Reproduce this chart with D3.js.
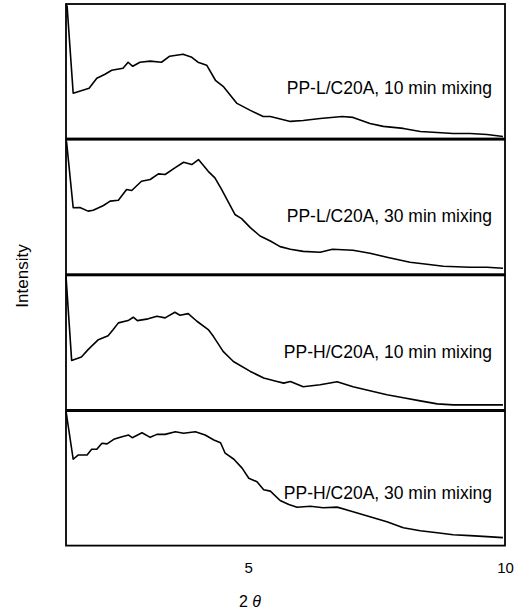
<!DOCTYPE html>
<html>
<head>
<meta charset="utf-8">
<script src="https://cdn.jsdelivr.net/npm/d3@7"></script>
<style>
  body { margin: 0; background: #fff; }
  text { font-family: "Liberation Sans", Arial, sans-serif; fill: #000; }
</style>
</head>
<body>
<svg width="518" height="613"></svg>
<script>
// sample names, top to bottom
var labels = [
    "PP-L/C20A, 10 min mixing",
    "PP-L/C20A, 30 min mixing",
    "PP-H/C20A, 10 min mixing",
    "PP-H/C20A, 30 min mixing"
];

// 2 theta positions
var theta1 = [1.47, 1.59, 1.90, 2.05, 2.21, 2.34, 2.56, 2.66, 2.75, 2.89, 3.09, 3.31, 3.47, 3.73, 3.90, 4.02, 4.19, 4.36, 4.51, 4.78, 5.04, 5.29, 5.43, 5.82, 6.07, 6.40, 6.83, 7.04, 7.37, 7.63, 8.02, 8.35, 8.68, 8.99, 9.32, 9.65, 9.96];
var int1 = [99, 33.6, 37.3, 44.8, 47.8, 50.7, 52.2, 56.7, 53.7, 56.7, 57.5, 56.7, 61.2, 62.7, 60.4, 56.7, 54.5, 43.3, 38.8, 26.1, 20.9, 16.4, 16.4, 12.7, 13.4, 14.9, 16.4, 15.7, 11.2, 9.0, 7.5, 5.2, 4.5, 3.7, 3.7, 3.0, 1.5];

var theta2 = [1.46, 1.59, 1.72, 1.88, 1.98, 2.18, 2.31, 2.47, 2.63, 2.73, 2.92, 3.09, 3.25, 3.38, 3.57, 3.74, 3.90, 4.03, 4.22, 4.35, 4.48, 4.74, 4.87, 5.04, 5.23, 5.43, 5.62, 5.82, 6.07, 6.40, 6.64, 7.04, 7.37, 7.70, 8.15, 8.48, 8.80, 9.32, 9.65, 9.96];
var int2 = [98.7, 49.4, 49.6, 46.9, 47.6, 51.1, 54.3, 55.0, 63.0, 62.2, 69.1, 70.4, 74.6, 74.1, 79.0, 83.2, 81.5, 85.2, 76.5, 71.6, 63.0, 44.4, 41.3, 34.6, 28.4, 24.7, 20.5, 18.5, 17.0, 16.3, 18.5, 17.8, 15.6, 12.6, 8.9, 7.4, 5.9, 5.2, 5.2, 4.4];

var theta3 = [1.45, 1.56, 1.75, 1.88, 2.08, 2.27, 2.37, 2.47, 2.66, 2.76, 2.84, 3.05, 3.22, 3.38, 3.57, 3.67, 3.83, 4.00, 4.22, 4.32, 4.51, 4.71, 5.04, 5.30, 5.56, 5.69, 5.82, 6.07, 6.40, 6.73, 7.04, 7.37, 7.70, 8.02, 8.35, 8.68, 8.99, 9.32, 9.96];
var int3 = [99.3, 36.8, 39.3, 44.8, 52.2, 55.2, 59.7, 64.7, 66.4, 68.9, 66.4, 67.7, 69.6, 68.4, 72.6, 70.4, 71.6, 65.9, 59.7, 54.7, 43.5, 36.0, 28.6, 23.7, 21.1, 19.9, 21.1, 17.2, 18.7, 20.9, 17.2, 14.2, 11.2, 9.0, 6.7, 4.5, 3.7, 3.7, 3.7];

var theta4 = [1.45, 1.59, 1.69, 1.86, 1.95, 2.05, 2.15, 2.25, 2.38, 2.54, 2.67, 2.74, 2.93, 3.09, 3.22, 3.38, 3.58, 3.74, 3.97, 4.16, 4.33, 4.46, 4.55, 4.72, 4.88, 5.01, 5.17, 5.30, 5.43, 5.62, 5.79, 5.95, 6.21, 6.46, 6.73, 7.04, 7.37, 7.70, 8.02, 8.35, 8.68, 8.99, 9.32, 9.65, 9.96];
var int4 = [100, 64.2, 67.4, 67.4, 71.6, 71.6, 76.1, 75.6, 79.0, 81.0, 82.2, 80.2, 83.9, 80.5, 82.7, 82.7, 84.7, 83.5, 84.7, 82.2, 78.5, 76.5, 68.7, 64.2, 57.6, 50.1, 47.5, 41.5, 40.5, 33.5, 30.5, 28.5, 29.3, 28.1, 28.6, 25.2, 21.5, 17.8, 13.3, 11.1, 9.6, 8.1, 7.4, 6.7, 5.9];

var xTicks = [5, 10];

var thetas = [theta1, theta2, theta3, theta4];
var ints = [int1, int2, int3, int4];

var svg = d3.select("svg");

var left = 66, right = 505;
var top0 = 4, panelH = 134.5, step = 135.7;
var labelDy = [90, 82, 83, 88];  // baseline offset of each label from panel top

var x = d3.scaleLinear().domain([1.45, 10]).range([left, right]);

var line = d3.line()
    .x(d => x(d[0]))
    .curve(d3.curveLinear);

thetas.forEach(function (th, i) {
    var t = top0 + i * step;
    var y = d3.scaleLinear().domain([0, 100]).range([t + panelH, t]);
    var pts = th.map((v, j) => [v, ints[i][j]]);

    var g = svg.append("g");

    g.append("rect")
        .attr("x", left)
        .attr("y", t)
        .attr("width", right - left)
        .attr("height", panelH)
        .attr("fill", "none")
        .attr("stroke", "#000")
        .attr("stroke-width", 1.8);

    g.append("path")
        .datum(pts)
        .attr("fill", "none")
        .attr("stroke", "#000")
        .attr("stroke-width", 1.6)
        .attr("stroke-linejoin", "round")
        .attr("d", line.y(d => y(d[1])));

    g.append("text")
        .attr("x", 492)
        .attr("y", t + labelDy[i])
        .attr("text-anchor", "end")
        .style("font-size", "17.5px")
        .text(labels[i]);
});

// x axis: only labels, no tick marks
var xAxis = d3.axisBottom(x)
    .tickValues(xTicks)
    .tickSize(0)
    .tickPadding(0)
    .tickFormat(d3.format("d"));

var ax = svg.append("g")
    .attr("transform", "translate(0," + 558 + ")")
    .call(xAxis);
ax.select(".domain").remove();
ax.selectAll("text")
    .attr("dy", null)
    .attr("y", 15)
    .style("font-size", "15px")
    .style("font-family", "'Liberation Sans', Arial, sans-serif");

var xl = svg.append("text")
    .attr("x", 250)
    .attr("y", 607)
    .attr("text-anchor", "middle")
    .style("font-size", "16px");
xl.append("tspan").text("2 ");
xl.append("tspan").style("font-style", "italic").text("θ");

svg.append("text")
    .attr("transform", "translate(28,276) rotate(-90)")
    .attr("text-anchor", "middle")
    .style("font-size", "17px")
    .text("Intensity");
</script>
</body>
</html>
